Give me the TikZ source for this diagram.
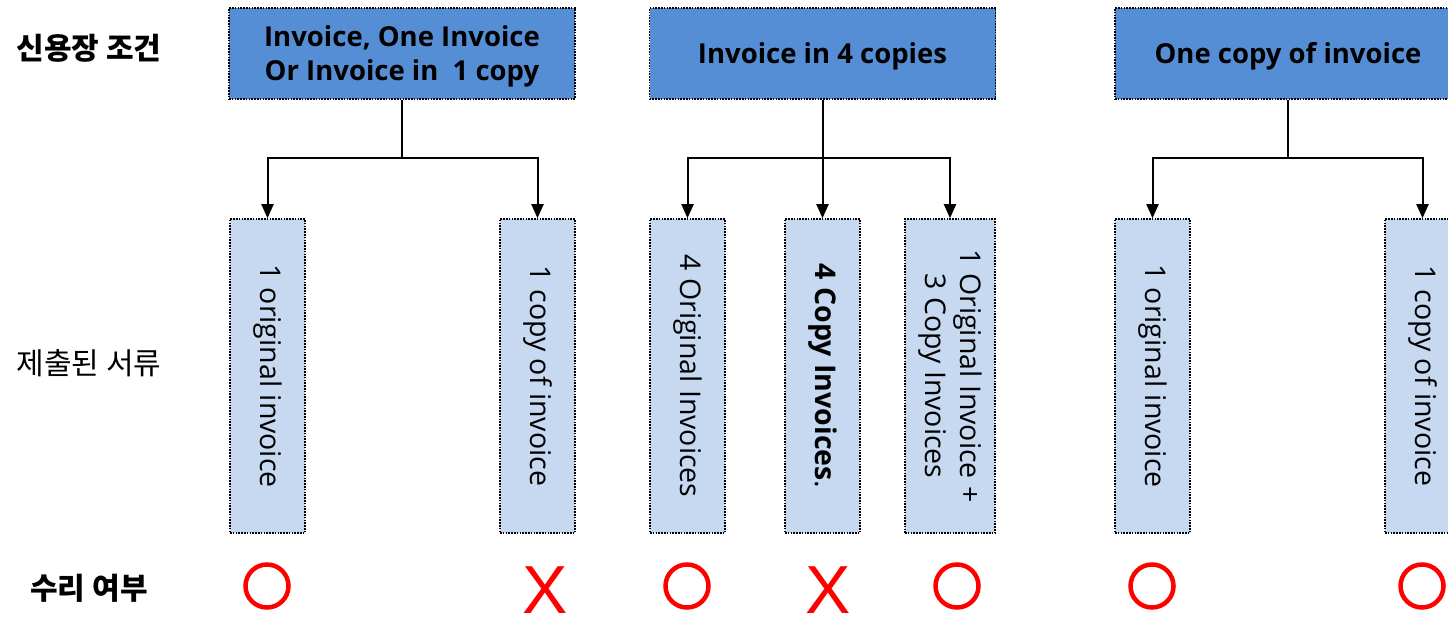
\documentclass[tikz,border=0pt]{standalone}
\usepackage{fontspec}
\setmainfont{Open Sans}
\newfontfamily\krfont{Noto Sans CJK KR}
\newfontfamily\xmarkfont{Liberation Sans}
\usetikzlibrary{arrows.meta}
\definecolor{headblue}{HTML}{558ED5}
\definecolor{docblue}{HTML}{C6D9F1}
\tikzset{
  dotline/.style={draw=black, line width=1.6pt, dash pattern=on 1.6pt off 1.2pt},
  headbox/.style={dotline, fill=headblue, minimum width=346pt, minimum height=91pt, inner sep=0pt},
  headtext/.style={inner sep=0pt, align=center, yshift=-3pt, font=\bfseries\fontsize{27.5}{34}\selectfont},
  docbox/.style={dotline, fill=docblue, minimum width=75pt, minimum height=314pt, inner sep=0pt},
  doctext/.style={rotate=-90, align=center, inner sep=0pt, font=\fontsize{28.5}{35}\selectfont},
  rowlabel/.style={font=\krfont\fontsize{30}{32}\selectfont, inner sep=0pt},
  rowlabelbold/.style={font=\krfont\bfseries\fontsize{30}{32}\selectfont, inner sep=0pt},
  conn/.style={line width=2pt},
  arr/.style={conn, -{Triangle[length=14pt,width=12pt]}},
  okmark/.style={circle, draw=red, line width=4.5pt, minimum size=43pt, inner sep=0pt},
  nomark/.style={text=red, inner sep=0pt, anchor=base, font=\xmarkfont\fontsize{68}{70}\selectfont}
}
\begin{document}
\begin{tikzpicture}[x=1pt, y=-1pt]
\useasboundingbox (0,0) rectangle (1448,619);

% row labels
\node[rowlabelbold] (l1) at (89,48) {신용장 조건};
\node[rowlabel] (l2) at (89,363) {제출된 서류};
\node[rowlabelbold] (l3) at (89,588) {수리 여부};

% credit conditions
\node[headbox] (c1) at (402,53.5) {};
\node[headbox] (c2) at (822.5,53.5) {};
\node[headbox] (c3) at (1288,53.5) {};
\node[headtext] (h1) at (c1) {Invoice, One Invoice\\Or Invoice in\ \ 1 copy};
\node[headtext] (h2) at (c2) {Invoice in 4 copies};
\node[headtext] (h3) at (c3) {One copy of invoice};

% presented documents
\node[docbox] (d1) at (267.5,376) {};
\node[docbox] (d2) at (537.5,376) {};
\node[docbox] (d3) at (687.5,376) {};
\node[docbox] (d4) at (822.5,376) {};
\node[docbox, minimum width=90pt] (d5) at (950,376) {};
\node[docbox] (d6) at (1152.5,376) {};
\node[docbox] (d7) at (1422.5,376) {};

\node[doctext] (t1) at (d1) {1 original invoice};
\node[doctext] (t2) at (d2) {1 copy of invoice};
\node[doctext] (t3) at (d3) {4 Original Invoices};
\node[doctext] (t4) at (d4) {{\bfseries 4 Copy Invoices}.};
\node[doctext] (t5) at (d5) {1 Original Invoice +\\3 Copy Invoices};
\node[doctext] (t6) at (d6) {1 original invoice};
\node[doctext] (t7) at (d7) {1 copy of invoice};

% branching connectors
\coordinate (b1) at (402,158);
\coordinate (b2) at (822.5,158);
\coordinate (b3) at (1288,158);
\draw[conn] (c1.south) -- (b1);
\draw[arr] (b1) -| (d1.north);
\draw[arr] (b1) -| (d2.north);
\draw[conn] (c2.south) -- (b2);
\draw[arr] (b2) -| (d3.north);
\draw[arr] (b2) -- (d4.north);
\draw[arr] (b2) -| (d5.north);
\draw[conn] (c3.south) -- (b3);
\draw[arr] (b3) -| (d6.north);
\draw[arr] (b3) -| (d7.north);

% acceptance marks
\node[okmark] (m1) at (267,586) {};
\node[nomark] (m2) at (545,613) {X};
\node[okmark] (m3) at (687,586) {};
\node[nomark] (m4) at (828,613) {X};
\node[okmark] (m5) at (957,586) {};
\node[okmark] (m6) at (1152,586) {};
\node[okmark] (m7) at (1422,586) {};
\end{tikzpicture}
\end{document}
